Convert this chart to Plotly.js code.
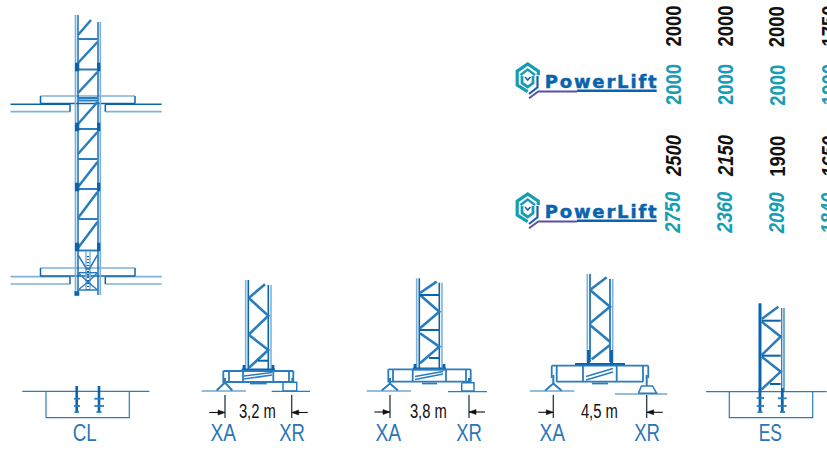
<!DOCTYPE html>
<html><head><meta charset="utf-8">
<script src="https://cdn.plot.ly/plotly-3.0.1.min.js"></script>
<style>html,body{margin:0;padding:0;background:#fff}#g{width:827px;height:450px}</style>
</head><body><div id="g"></div>
<script>
// Drawing values: each list holds polylines as flat x,y runs.
const dark='#0a64ad', mid='#2a7dbc', pale='#7fb1d8', teal='#169db3', ink='#111111', label='#2a76b6';

// CL climbing mast
const clChordDark=[[78,15,78,295],[98,22,98,295]];
const clChordPale=[[75.5,15,75.5,295],[100.3,22,100.3,295]];
const clRungs=[[78,39,97.5,39],[78,69.5,97.5,69.5],[78,98,97.5,98],[78,100.5,97.5,100.5],[78,129,97.5,129],[78,159,97.5,159],[78,189,97.5,189],[78,219,97.5,219],[78,250.5,97.5,250.5]];
const clDiagonals=[[78,35,91,20],[78,63,97.5,42],[78,93,97.5,72],[78,124,97.5,102],[78,154,97.5,132],[78,187,97.5,162],[78,218,97.5,192],[78,248,97.5,222]];
const clJoints=[[75,63,79,63,79,71,75,71],[97,63,100,63,100,71,97,71],[75,123,79,123,79,131,75,131],[97,123,100,123,100,131,97,131],[75,183,79,183,79,191,75,191],[97,183,100,183,100,191,97,191],[75,243,79,243,79,251,75,251],[97,243,100,243,100,251,97,251],[74.5,291.5,79,291.5,79,295.5,74.5,295.5]];
const clSlabDark=[[40.5,103.5,135,103.5],[10.5,104.3,70,104.3],[105.3,104.3,161.7,104.3],[70,104.3,70,111.7],[105.3,104.3,105.3,111.7],[40.5,96,40.5,103.5],[135,96,135,103.5],[40.5,276,135,276],[40.5,268,40.5,276],[135,268,135,276],[70,276.7,70,284],[105.3,276.7,105.3,284]];
const clSlabPale=[[40.5,96,135,96],[10.5,111.7,70,111.7],[105.3,111.7,161.7,111.7],[40.5,268,135,268],[10.5,276.7,70,276.7],[105.3,276.7,161.7,276.7],[10.5,284,70,284],[105.3,284,161.7,284]];
const clShoeDark=[[78,255,87.3,270],[97.5,255,88.7,270],[78,272.7,97.5,272.7],[78,272.7,88,282],[97.5,272.7,88,282],[78,290,88,282],[97.5,290,88,282],[78,290,97.5,290]];
const clShoePale=[[86,251,86,290],[90,251,90,290]];
const clShoeDots=[[88,256,88,290]];

// CL and ES foundations
const clGround=[[22.3,391.3,149.3,391.3],[46,391.3,46,417.7,129.3,417.7,129.3,391.3]];
const clAnchors=[[76.7,386,76.7,412.3],[99,386,99,412.3]];
const clAnchorBars=[[74,398.7,80,398.7],[74,406,80,406],[94.3,398.7,104,398.7],[94.3,406,104,406],[74.5,412,79,412],[96.5,412,101.5,412]];
const esGround=[[706,391.7,826.7,391.7],[729.3,391.7,729.3,417.7,812.7,417.7,812.7,391.7]];
const esAnchors=[[760,388,760,412.3],[782.3,388,782.3,412.3]];
const esAnchorBars=[[756.7,398,764,398],[756.7,406,764,406],[777.7,398.3,786.7,398.3],[777.7,406,786.7,406],[757.5,412,762.5,412],[780,412,785,412]];

// Base 3.2 m
const b32Chords=[[245.7,280,245.7,370],[271,285,271,370]];
const b32ChordsDark=[[248.3,280,248.3,370],[268.3,285,268.3,370]];
const b32Zig=[[249,297.7,265,284.3],[249,298.3,268.3,315.7,249,334.3],[249,335,268.3,350,249,367.7]];
const b32Rungs=[[258,360.7,268.3,360.7]];
const b32Beam=[[241.7,370,275,370],[244,365,244,369],[273,365,273,369]];
const b32Frame=[[223.3,371,293.3,371],[229,382,289,382],[223.3,371,223.3,382,229,382,229,371],[289,371,289,382,293.3,382,293.3,371],[243,371,243,382],[273.3,371,273.3,382],[250,383.5,266.7,383.5]];
const b32Inner=[[244,379,272,375],[244,376,272,372.5]];
const b32Foot=[[216.7,390.5,225,382.5,232.3,390.5],[225,378,225,384],[292.3,378,292.3,383]];
const b32Ground=[[201.7,391,246,391],[271.7,391.4,310,391.4]];
const b32Block=[[283,382.3,296.7,382.3,296.7,391,283,391,283,382.3]];
const b32Dims=[[225,395,225,418],[291.7,395,291.7,418]];
const b32Arrows=[[209.3,412.5,225,412.5],[307.7,412.5,291.7,412.5]];
const b32Heads=[[225,412.5,218,410,218,415,225,412.5],[291.7,412.5,298.7,410,298.7,415,291.7,412.5]];

// Base 3.8 m
const b38Chords=[[416.7,278.3,416.7,369],[442,282.7,442,369]];
const b38ChordsDark=[[419.3,278.3,419.3,369],[439.3,282.7,439.3,369]];
const b38Zig=[[420,293,436.7,281.7],[420,295,439.3,311.7,420,328.3],[420,333.3,439.3,346.7,420,363.3]];
const b38Rungs=[[419.3,295,439.3,295],[419.3,330,439.3,330],[429,358,439.3,358]];
const b38Beam=[[412.7,369,446,369],[415,364,415,368],[444,364,444,368]];
const b38Frame=[[388.3,369.3,470.7,369.3],[393,381.7,466,381.7],[388.3,369.3,388.3,381.7,393,381.7,393,369.3],[466,369.3,466,381.7,470.7,381.7,470.7,369.3],[412.7,369.3,412.7,381.7],[446,369.3,446,381.7],[422,383.5,437,383.5]];
const b38Inner=[[415,379.5,443,374],[415,376.5,443,371.5]];
const b38Foot=[[381.7,390.5,390,383.5,398,390.5],[390,378,390,384],[469,378,469,383]];
const b38Ground=[[366.7,391,411,391],[448,391.7,487,391.7]];
const b38Block=[[461.7,382.7,474,382.7,474,391,461.7,391,461.7,382.7]];
const b38Dims=[[390,395,390,418],[469,395,469,418]];
const b38Arrows=[[374.3,412,390,412],[485,412,469,412]];
const b38Heads=[[390,412,383,409.5,383,414.5,390,412],[469,412,476,409.5,476,414.5,469,412]];

// Base 4.5 m
const b45Chords=[[587.3,274,587.3,362],[612.7,279,612.7,362]];
const b45ChordsDark=[[590,274,590,362],[610,279,610,362]];
const b45Zig=[[590,290,606.7,277.3],[590,290,610,306.7,590,323.3],[590,325,610,341.7],[610,345,591.7,359.3]];
const b45Beam=[[575,364.5,625,364.5],[588.5,350,588.5,364],[611.5,350,611.5,364]];
const b45Frame=[[551.7,365.7,648.3,365.7],[556.7,381.7,643,381.7],[551.7,365.7,551.7,378],[556.7,365.7,556.7,381.7],[643,365.7,643,381.7],[648.3,365.7,648.3,378],[583,365.7,583,381.7],[616.7,365.7,616.7,381.7],[592,383.5,608,383.5]];
const b45Inner=[[586,380,613,372],[586,376.5,613,368.5]];
const b45Foot=[[545,390.7,553.3,383.5,561.7,390.7],[553.3,375,553.3,384],[646.7,375,646.7,386]];
const b45Pad=[[638.3,393.3,641.5,386,652.5,386,656.7,393.3,638.3,393.3]];
const b45Ground=[[530,391,574.3,391],[615,394,667.3,394]];
const b45Dims=[[553.3,395,553.3,418],[646.7,395,646.7,418]];
const b45Arrows=[[538.3,412.3,553.3,412.3],[662.7,412.3,646.7,412.3]];
const b45Heads=[[553.3,412.3,546.3,409.8,546.3,414.8,553.3,412.3],[646.7,412.3,653.7,409.8,653.7,414.8,646.7,412.3]];

// ES mast
const esChordThick=[[760,303.3,760,391]];
const esChords=[[781.7,308,781.7,391],[784,308,784,391]];
const esZig=[[761.7,319,778.3,306.7],[761.7,321.7,780.7,336.7,761.7,355],[761.7,356.7,780.7,371.7,761.7,389.3]];
const esRungs=[[761.7,320.7,780.7,320.7],[761.7,355.7,780.7,355.7],[770,384,780.7,384]];

// PowerLift logo marks (two stacked copies)
const logoOffsets=[0,130];
const logoOuter=[527.7,91.7,517.2,85,517.2,71.2,527.7,64,538.3,71.2,538.3,75];
const logoChevron=[520.5,75,527.7,69.5,535,75];
const logoCup=[522,76,522,83,527.7,87,533,83,533,76];
const logoCube=[525,77,527.7,80,530.5,77];
const logoBlueTail=[537.5,76,537.5,87.3,529,94];
const logoPurple=[529,98.3,538.3,91.5,577,91.5];
const logoUnderline=[577,90.7,656.7,90.7];

// Text
const dimLabels=['3,2 m','3,8 m','4,5 m'];
const footLabels=['CL','XA','XR','XA','XR','XA','XR','ES'];
const footX=[85,223.7,291.7,388,469,552.7,646.7,770];
const footLen=[24,25.5,25.7,25.5,25.7,25.5,25.7,23.3];
const dimX=[257,428,599];
const colX=[673,725,776.7,816.5];
const topBlack=['2000','2000','2000','1750'];
const topTeal=['2000','2000','2000','1900'];
const lowBlack=['2500','2150','1900','1650'];
const lowTeal=['2750','2360','2090','1840'];

const traces=[];
function draw(list,color,width,fill,dash){
  const x=[],y=[];
  list.forEach(p=>{for(let i=0;i<p.length;i+=2){x.push(p[i]);y.push(p[i+1]);}x.push(null);y.push(null);});
  const t={type:'scatter',mode:'lines',x,y,hoverinfo:'skip',line:{color,width,dash:dash||'solid',simplify:false}};
  if(fill){t.fill='toself';t.fillcolor=color;}
  traces.push(t);
}
function shift(p,dy){return p.map((v,i)=>i%2?v+dy:v);}

draw(clSlabPale,pale,1.7);draw(clSlabDark,dark,1.5);
draw(clChordPale,pale,1.7);draw(clChordDark,dark,1.4);
draw(clRungs,mid,2);draw(clDiagonals,mid,2.5);draw(clJoints,dark,0.6,true);
draw(clShoePale,pale,1.5);draw(clShoeDark,mid,1.5);draw(clShoeDots,dark,2.2,false,'1px,2px');
draw(clGround,mid,1.2);draw(clAnchors,dark,2.6);draw(clAnchorBars,mid,1.8);

[[b32Chords,b32ChordsDark,b32Zig,b32Rungs,b32Beam,b32Frame,b32Inner,b32Foot,b32Ground,b32Block,b32Dims,b32Arrows,b32Heads],
 [b38Chords,b38ChordsDark,b38Zig,b38Rungs,b38Beam,b38Frame,b38Inner,b38Foot,b38Ground,b38Block,b38Dims,b38Arrows,b38Heads],
 [b45Chords,b45ChordsDark,b45Zig,[],b45Beam,b45Frame,b45Inner,b45Foot,b45Ground,b45Pad,b45Dims,b45Arrows,b45Heads]
].forEach(s=>{
  draw(s[0],pale,1.6);draw(s[1],dark,1.6);draw(s[2],mid,2.6);draw(s[3],dark,2);
  draw(s[4],dark,2.8);draw(s[5],mid,1.8);draw(s[6],mid,1.6);draw(s[7],mid,2);draw(s[8],mid,1.2);draw(s[9],mid,1.5);
  draw(s[10],'#2a3a48',1.3);draw(s[11],ink,1.1);draw(s[12],ink,0.5,true);
});
draw(esChordThick,dark,3);draw(esChords,mid,1.3);draw(esZig,mid,2.5);draw(esRungs,dark,2);
draw(esGround,mid,1.2);draw(esAnchors,dark,2.8);draw(esAnchorBars,mid,1.8);

logoOffsets.forEach(d=>{
  draw([shift(logoOuter,d)],teal,3.2);
  draw([shift(logoChevron,d)],teal,2.4);
  draw([shift(logoCup,d)],teal,2.8);
  draw([shift(logoCube,d)],'#1f5fa8',1.6);
  draw([shift(logoBlueTail,d)],'#1f5fa8',2.2);
  draw([shift(logoPurple,d)],'#5a4fa8',2);
  draw([shift(logoUnderline,d)],dark,2.4);
});

const sans='"Liberation Sans",Arial,sans-serif';
const ann=[], lengths=[], modes=[], strokes=[];
function txt(text,x,y,size,color,len,opt,fontOpt,mode,stroke){
  ann.push(Object.assign({xref:'x',yref:'y',x,y,text,showarrow:false,xanchor:'center',yanchor:'middle',
    borderpad:0,borderwidth:0,font:Object.assign({family:sans,size,color},fontOpt||{})},opt||{}));
  lengths.push(len);modes.push(mode||'spacingAndGlyphs');strokes.push(stroke||0);
}
footLabels.forEach((t,i)=>txt(t,footX[i],432.5,23,label,footLen[i]));
dimLabels.forEach((t,i)=>txt(t,dimX[i],410.7,19.5,ink,37));
function col(vals,y,color,styleFn){
  vals.forEach((t,i)=>{
    const o={textangle:-90};
    if(i===3)o.xanchor='left';
    txt(t,colX[i],y,22,color,41,o,{weight:'bold',style:styleFn?styleFn(i):'normal'});
  });
}
col(topBlack,26.5,ink);
col(topTeal,85,teal);
col(lowBlack,156,ink,i=>i===2?'normal':'italic');
col(lowTeal,212.6,teal,()=>'italic');
logoOffsets.forEach(d=>{
  txt('PowerLift',600.5,81.5+d,18,dark,112,{},{family:'"DejaVu Sans",sans-serif',weight:'bold'},'spacing',0.5);
});

function condense(){
  document.querySelectorAll('#g .annotation-text').forEach((el,i)=>{
    el.setAttribute('textLength',lengths[i]);
    el.setAttribute('lengthAdjust',modes[i]);
    if(strokes[i]){el.style.stroke=dark;el.style.strokeWidth=strokes[i]+'px';}
  });
}
Plotly.newPlot('g',traces,{
  width:827,height:450,margin:{l:0,r:0,t:0,b:0,pad:0},
  paper_bgcolor:'#fff',plot_bgcolor:'#fff',showlegend:false,hovermode:false,
  xaxis:{range:[0,827],visible:false,fixedrange:true},
  yaxis:{range:[450,0],visible:false,fixedrange:true},
  annotations:ann
},{staticPlot:true,displayModeBar:false}).then(condense);
condense();
</script></body></html>
